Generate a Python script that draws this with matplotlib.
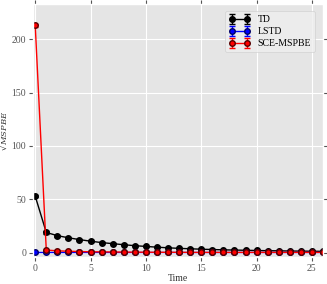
import matplotlib
matplotlib.use('Agg')
import matplotlib.pyplot as plt
from matplotlib.legend_handler import HandlerErrorbar
from matplotlib.container import ErrorbarContainer

plt.style.use('ggplot')
plt.rcParams['font.family'] = 'serif'
plt.rcParams['font.serif'] = ['Liberation Serif', 'DejaVu Serif']
plt.rcParams['mathtext.fontset'] = 'dejavuserif'

time = list(range(27))
td = [53, 19, 16, 14, 12.3, 10.8, 9.5, 8.5, 7.5, 6.6, 5.9, 5.2, 4.6, 4.1, 3.7, 3.3,
      3.0, 2.7, 2.5, 2.3, 2.1, 1.9, 1.8, 1.6, 1.5, 1.4, 1.3]
td_err = [1.0, 1.2, 1.0, 0.9, 0.8, 0.7, 0.7, 0.6, 0.6, 0.5, 0.5, 0.5, 0.4, 0.4, 0.4, 0.4,
          0.3, 0.3, 0.3, 0.3, 0.3, 0.3, 0.3, 0.3, 0.3, 0.3, 0.3]
lstd = [0.3] * 27
lstd_err = [0.1] * 27
sce = [213, 2.5, 1.8, 1.4, 1.1, 0.9, 0.8, 0.7, 0.6, 0.5, 0.5, 0.4, 0.4, 0.4, 0.3, 0.3,
       0.3, 0.3, 0.3, 0.3, 0.3, 0.3, 0.3, 0.3, 0.3, 0.3, 0.3]
sce_err = [1.5, 0.5, 0.3, 0.3, 0.2, 0.2, 0.2, 0.2, 0.2, 0.2, 0.2, 0.2, 0.2, 0.2, 0.2, 0.2,
           0.2, 0.2, 0.2, 0.2, 0.2, 0.2, 0.2, 0.2, 0.2, 0.2, 0.2]

fig = plt.figure(figsize=(3.27, 2.84), dpi=100)
ax = fig.add_axes([33 / 327, 27 / 284, 290 / 327, 253 / 284])

ax.errorbar(time, td, yerr=td_err, color='black', marker='o', markersize=4,
            linewidth=1, capsize=2, label='TD')
ax.errorbar(time, lstd, yerr=lstd_err, color='blue', marker='o', markersize=4,
            markeredgecolor='#000066', linewidth=1, capsize=2, label='LSTD')
ax.errorbar(time, sce, yerr=sce_err, color='red', marker='o', markersize=4,
            markeredgecolor='#550000', linewidth=1, capsize=2, label='SCE-MSPBE')

ax.set_xlim(-0.2, 26)
ax.set_ylim(-4, 233)
ax.set_xticks([0, 5, 10, 15, 20, 25])
ax.set_yticks([0, 50, 100, 150, 200])
ax.tick_params(labelsize=7, colors='#555555', length=3, pad=2, direction='out',
               top=True, right=True)
ax.set_xlabel('Time', fontsize=7, color='#333333', labelpad=1)
ax.set_ylabel(r'$\sqrt{MSPBE}$', fontsize=6, color='#333333')
ax.yaxis.set_label_coords(-0.078, 0.5)
leg = ax.legend(loc='upper right', fontsize=7, frameon=True, handlelength=2.2,
                borderpad=0.4, labelspacing=0.3,
                handler_map={ErrorbarContainer: HandlerErrorbar(numpoints=2)},
                bbox_to_anchor=(0.99, 0.99))
leg.get_frame().set_facecolor('#EEEEEE')
leg.get_frame().set_edgecolor('#CCCCCC')

plt.savefig('out.png', dpi=100)
plt.close()
